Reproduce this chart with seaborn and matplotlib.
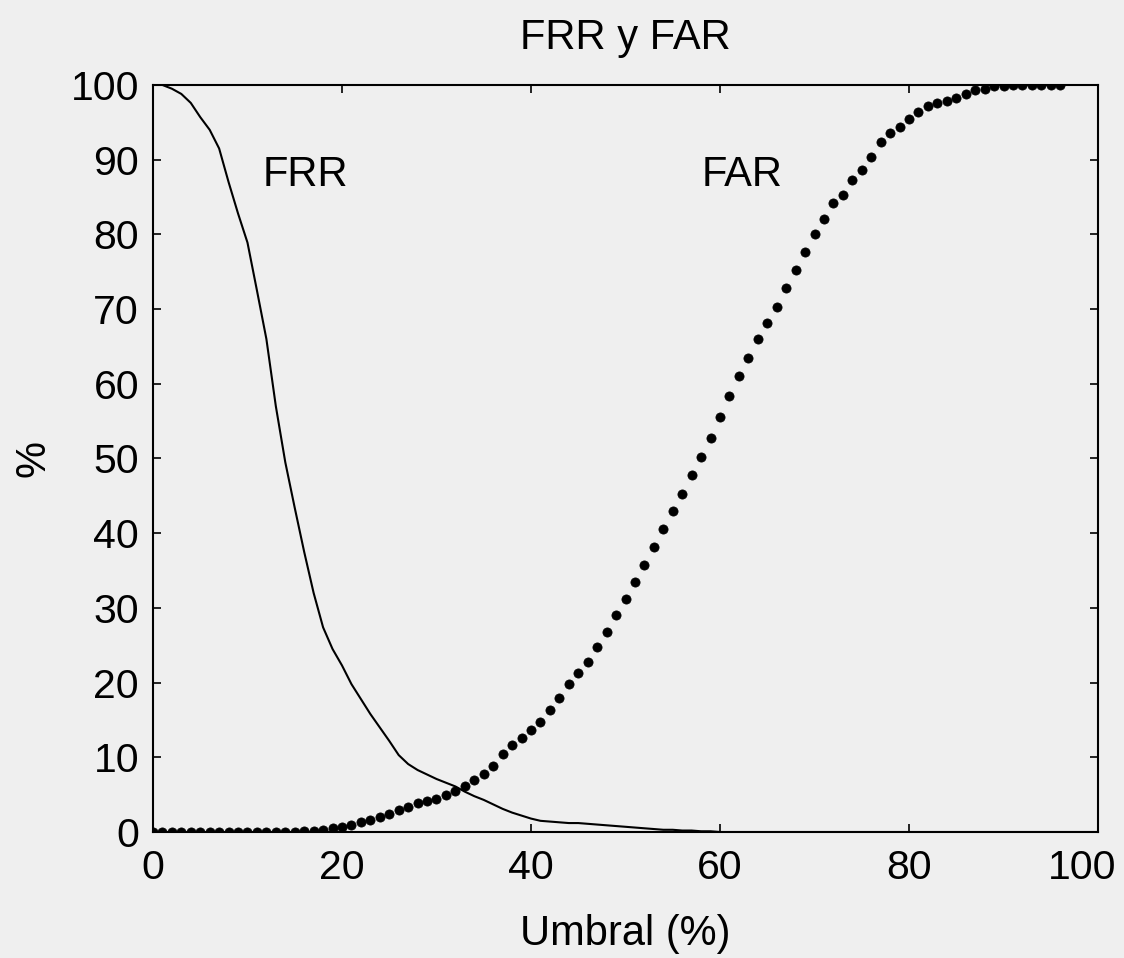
import matplotlib
matplotlib.use("Agg")
import matplotlib.pyplot as plt
import matplotlib.transforms as mtransforms
import seaborn as sns
import pandas as pd

# FRR (solid line), sampled every 1 % of threshold
frr_x = list(range(0, 101))
frr_y = [100, 100, 99.5, 98.8, 97.6, 95.7, 94.0, 91.5, 87.0, 82.8,
         78.9, 72.5, 66.0, 57.0, 49.5, 43.4, 37.5, 32.0, 27.4, 24.5,
         22.3, 19.8, 17.8, 15.8, 14.0, 12.2, 10.3, 9.1, 8.3, 7.7,
         7.1, 6.6, 6.1, 5.4, 4.8, 4.3, 3.7, 3.1, 2.6, 2.2,
         1.8, 1.5, 1.4, 1.3, 1.2, 1.2, 1.1, 1.0, 0.9, 0.8,
         0.7, 0.6, 0.5, 0.4, 0.3, 0.3, 0.2, 0.2, 0.1, 0.1] + [0.0] * 41

# FAR (dotted markers), sampled every 1 % of threshold
far_x = list(range(0, 97))
far_y = [0.0] * 16 + [0.1, 0.2, 0.3, 0.5,
         0.7, 1.0, 1.3, 1.6, 2.0, 2.4, 2.9, 3.4, 3.9, 4.1,
         4.4, 4.9, 5.5, 6.2, 7.0, 7.8, 8.8, 10.4, 11.6, 12.6,
         13.6, 14.7, 16.3, 18.0, 19.8, 21.3, 22.8, 24.8, 26.8, 29.0,
         31.2, 33.5, 35.8, 38.2, 40.5, 43.0, 45.3, 47.8, 50.2, 52.7,
         55.5, 58.3, 61.0, 63.5, 66.0, 68.2, 70.3, 72.8, 75.2, 77.6,
         80.0, 82.0, 84.2, 85.3, 87.3, 88.6, 90.4, 92.4, 93.6, 94.4,
         95.5, 96.4, 97.2, 97.6, 97.9, 98.3, 98.8, 99.3, 99.5, 99.8,
         99.9, 100, 100, 100, 100, 100, 100]

x_ticks = [0, 20, 40, 60, 80, 100]
y_ticks = [0, 10, 20, 30, 40, 50, 60, 70, 80, 90, 100]

title = "FRR y FAR"
x_label = "Umbral (%)"
y_label = "%"

sns.set_style("ticks")
plt.rcParams["font.family"] = ["Liberation Sans", "DejaVu Sans"]
plt.rcParams["text.color"] = "black"
plt.rcParams["axes.labelcolor"] = "black"

bg = "#efefef"
fig = plt.figure(figsize=(11.24, 9.58), dpi=100, facecolor=bg)
ax = fig.add_axes([0.1361, 0.1315, 0.8408, 0.7798])
ax.set_facecolor(bg)

frr = pd.DataFrame({"x": frr_x, "y": frr_y})
far = pd.DataFrame({"x": far_x, "y": far_y})

sns.lineplot(data=frr, x="x", y="y", ax=ax, color="black", linewidth=1.5)
sns.scatterplot(data=far, x="x", y="y", ax=ax, color="black", s=44,
                marker="o", edgecolor="black", linewidth=0.5, zorder=3)

ax.set_xlim(0, 100)
ax.set_ylim(0, 100)
ax.set_xticks(x_ticks)
ax.set_yticks(y_ticks)
ax.tick_params(direction="in", length=6, width=1.2, top=True, right=True,
               labelsize=29.5, pad=10, colors="black")
ax.tick_params(axis="x", pad=12)
for s in ax.spines.values():
    s.set_linewidth(1.5)
    s.set_color("black")

# shift the last x tick label slightly left, as in the reference
last = ax.get_xticklabels()[-1]
last.set_transform(last.get_transform() +
                   mtransforms.ScaledTranslation(-0.16, 0, fig.dpi_scale_trans))

ax.set_title(title, fontsize=30, pad=26, color="black")
ax.set_xlabel(x_label, fontsize=30, labelpad=20, color="black")
ax.set_ylabel(y_label, fontsize=30, labelpad=12, color="black")

ax.text(16.1, 88, "FRR", fontsize=30, ha="center", va="center", color="black")
ax.text(62.3, 88, "FAR", fontsize=30, ha="center", va="center", color="black")

fig.savefig("out.png", dpi=100, facecolor=bg)
